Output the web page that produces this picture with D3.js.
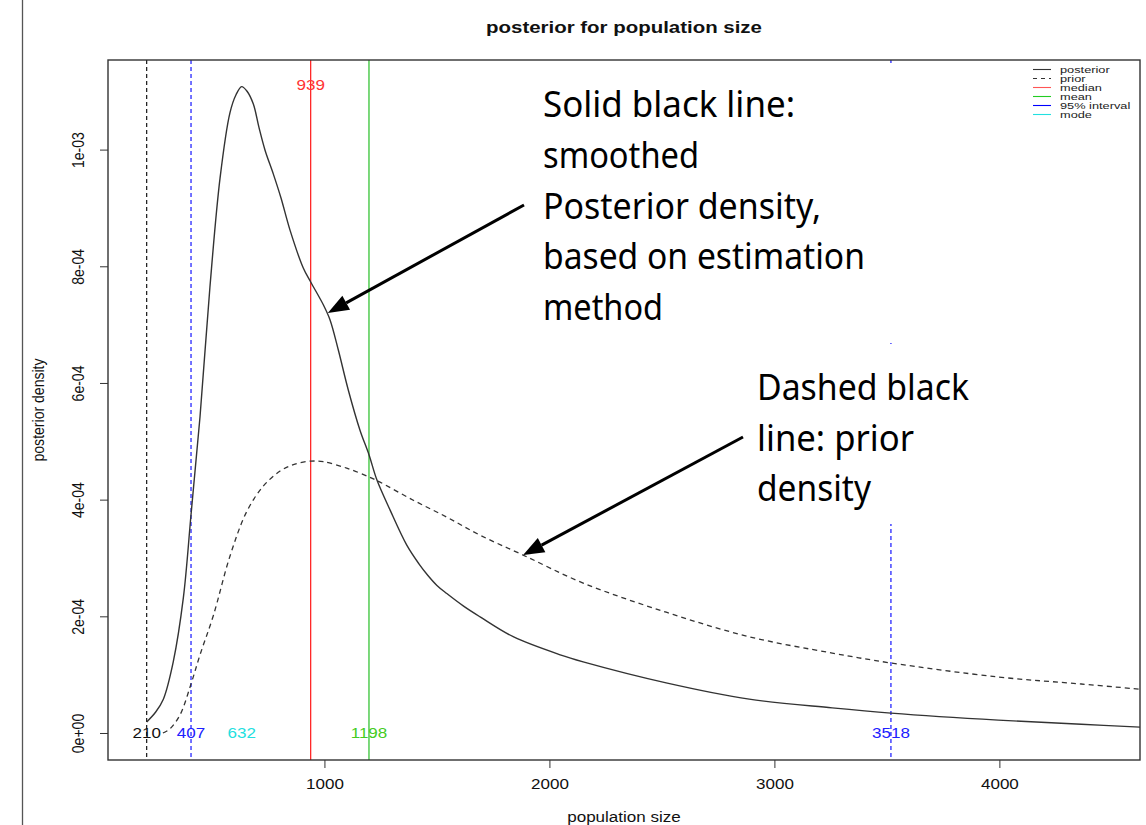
<!DOCTYPE html>
<html>
<head>
<meta charset="utf-8">
<script src="https://cdn.jsdelivr.net/npm/d3@7"></script>
<style>
  html, body { margin: 0; padding: 0; background: #fff; }
  svg { display: block; }
  .rt { font-family: "Liberation Sans", Arial, sans-serif; }
  .ann { font-family: "Noto Sans", "Open Sans", sans-serif; }
</style>
</head>
<body>
<svg id="chart" width="1146" height="825"></svg>
<script>
// ---------------- data ----------------
const posteriorN = [210, 250, 284, 328, 373, 407, 447, 491, 536, 580, 607, 632, 656, 684, 709, 736, 773, 807, 847, 906, 939, 995, 1025, 1062, 1106, 1158, 1198, 1233, 1292, 1366, 1420, 1460, 1500, 1544, 1620, 1692, 1839, 2048, 2150, 2519, 2888, 3257, 3518, 3995, 4364, 4627];
const posteriorD = [1.9e-5, 3.6e-5, 5.8e-5, 1.22e-4, 2.32e-4, 3.74e-4, 5.42e-4, 7.64e-4, 9.51e-4, 1.063e-3, 1.094e-3, 1.108e-3, 1.100e-3, 1.078e-3, 1.038e-3, 9.99e-4, 9.58e-4, 9.17e-4, 8.62e-4, 7.97e-4, 7.73e-4, 7.34e-4, 7.08e-4, 6.56e-4, 5.88e-4, 5.19e-4, 4.77e-4, 4.34e-4, 3.82e-4, 3.22e-4, 2.90e-4, 2.70e-4, 2.53e-4, 2.39e-4, 2.17e-4, 1.99e-4, 1.65e-4, 1.34e-4, 1.22e-4, 8.6e-5, 5.8e-5, 4.3e-5, 3.4e-5, 2.2e-5, 1.5e-5, 1.0e-5];

const priorN = [282, 313, 358, 407, 447, 506, 580, 654, 728, 803, 869, 939, 995, 1099, 1198, 1247, 1395, 1544, 1692, 1883, 2150, 2519, 2888, 3257, 3518, 3995, 4364, 4627];
const priorD = [0, 7e-6, 3.1e-5, 8.4e-5, 1.34e-4, 2.01e-4, 3.03e-4, 3.79e-4, 4.23e-4, 4.49e-4, 4.61e-4, 4.66e-4, 4.65e-4, 4.54e-4, 4.39e-4, 4.30e-4, 3.99e-4, 3.70e-4, 3.39e-4, 3.05e-4, 2.57e-4, 2.07e-4, 1.65e-4, 1.37e-4, 1.20e-4, 9.6e-5, 8.4e-5, 7.5e-5];

const xTicks = [1000, 2000, 3000, 4000];
const yTicks = [0, 2e-4, 4e-4, 6e-4, 8e-4, 1e-3];
const yTickLabels = ["0e+00", "2e-04", "4e-04", "6e-04", "8e-04", "1e-03"];

// reference lines: value, colour, dashed?, label position
const markerValues = [210, 407, 939, 1198, 3518];
const markerColors = ["#000000", "#0000ff", "#ff0000", "#11b811", "#0000ff"];
const markerDashed = [true, true, false, false, true];
const markerLabelColors = ["#111111", "#2020ff", "#ff3333", "#44cc22", "#2020ff"];
const markerLabelPos = ["bottom", "bottom", "top", "bottom", "bottom"];
const modeValue = 632;
const modeColor = "#22e0e0";

const legendLabels = ["posterior", "prior", "median", "mean", "95% interval", "mode"];
const legendColors = ["#333333", "#333333", "#ff5555", "#22cc22", "#0000ff", "#22e0e0"];
const legendDashed = [false, true, false, false, false, false];

const annot1Lines = ["Solid black line:", "smoothed", "Posterior density,", "based on estimation", "method"];
const annot1Widths = [252, 156, 278, 322, 120];
const annot2Lines = ["Dashed black", "line: prior", "density"];
const annot2Widths = [212, 157, 114];

// ---------------- layout ----------------
const svg = d3.select("#chart");
const L = 108, R = 1140, T = 60, B = 760;
const SX = 1.42, SY = 1.17; // horizontal / vertical stretch of the original R text

const x = d3.scaleLinear().domain([38, 4625]).range([L, R]);
const y = d3.scaleLinear().domain([-4.63e-5, 1.1536e-3]).range([B, T]);

svg.append("rect").attr("width", 1146).attr("height", 825).attr("fill", "#fff");

// page left rule
svg.append("line").attr("x1", 22.5).attr("x2", 22.5).attr("y1", 0).attr("y2", 825)
  .attr("stroke", "#555").attr("stroke-width", 1.3);

svg.append("clipPath").attr("id", "clip").append("rect")
  .attr("x", L).attr("y", T).attr("width", R - L).attr("height", B - T);

function rtext(parent, px, py, str, o = {}) {
  const sy = o.sy || SY;
  const g = parent.append("g")
    .attr("transform", `translate(${px},${py}) scale(${SX},${sy})` + (o.rotate ? " rotate(-90)" : ""));
  return g.append("text").attr("class", "rt")
    .attr("text-anchor", o.anchor || "middle")
    .attr("dominant-baseline", "central")
    .attr("font-size", o.size || 12)
    .attr("font-weight", o.weight || "normal")
    .attr("fill", o.fill || "#111")
    .text(str);
}

const plot = svg.append("g").attr("clip-path", "url(#clip)");

// reference vertical lines
markerValues.forEach((v, i) => {
  plot.append("line")
    .attr("x1", x(v)).attr("x2", x(v)).attr("y1", T).attr("y2", B)
    .attr("stroke", markerColors[i]).attr("stroke-width", 1.1)
    .attr("stroke-dasharray", markerDashed[i] ? "4,3" : null);
});

// curves
const line = d3.line().x(d => x(d[0])).y(d => y(d[1])).curve(d3.curveCatmullRom.alpha(0.5));
plot.append("path").datum(priorN.map((n, i) => [n, priorD[i]]))
  .attr("d", line).attr("fill", "none").attr("stroke", "#333")
  .attr("stroke-width", 1.3).attr("stroke-dasharray", "5,4");
plot.append("path").datum(posteriorN.map((n, i) => [n, posteriorD[i]]))
  .attr("d", line).attr("fill", "none").attr("stroke", "#333")
  .attr("stroke-width", 1.4);

// marker labels
markerValues.forEach((v, i) => {
  const py = markerLabelPos[i] === "top" ? 85 : y(0);
  rtext(svg, x(v), py, String(v), { fill: markerLabelColors[i] });
});
rtext(svg, x(modeValue), y(0), String(modeValue), { fill: modeColor });

// plot box
svg.append("rect").attr("x", L).attr("y", T).attr("width", R - L).attr("height", B - T)
  .attr("fill", "none").attr("stroke", "#333").attr("stroke-width", 1.4);

// legend
legendLabels.forEach((lab, i) => {
  const ly = 69.5 + i * 9;
  svg.append("line").attr("x1", 1033).attr("x2", 1051).attr("y1", ly).attr("y2", ly)
    .attr("stroke", legendColors[i]).attr("stroke-width", 1.1)
    .attr("stroke-dasharray", legendDashed[i] ? "4,4" : null);
  rtext(svg, 1060, ly, lab, { anchor: "start", size: 9, sy: 0.95, fill: "#222" });
});

// axes
const xAxis = svg.append("g").attr("transform", `translate(0,${B})`)
  .call(d3.axisBottom(x).tickValues(xTicks).tickSize(8).tickFormat(d3.format("d")));
xAxis.select(".domain").remove();
xAxis.selectAll(".tick line").attr("stroke", "#333");
xAxis.selectAll("text").attr("y", null).attr("dy", null)
  .attr("class", "rt").attr("font-size", 12).attr("fill", "#111")
  .attr("dominant-baseline", "central")
  .attr("transform", `translate(0,24) scale(${SX},${SY})`);

const yAxis = svg.append("g").attr("transform", `translate(${L},0)`)
  .call(d3.axisLeft(y).tickValues(yTicks).tickSize(8).tickFormat((d, i) => yTickLabels[i]));
yAxis.select(".domain").remove();
yAxis.selectAll(".tick line").attr("stroke", "#333");
yAxis.selectAll("text").attr("x", null).attr("dy", null)
  .attr("class", "rt").attr("font-size", 12).attr("fill", "#111")
  .attr("text-anchor", "middle").attr("dominant-baseline", "central")
  .attr("transform", `translate(-30,0) scale(${SX},${SY}) rotate(-90)`);

// titles
rtext(svg, (L + R) / 2, 27, "posterior for population size", { size: 14.4, weight: "bold" });
rtext(svg, (L + R) / 2, 817, "population size", { size: 12 });
rtext(svg, 38, (T + B) / 2, "posterior density", { size: 12, rotate: true });

// annotation backgrounds (hide the reference line behind the text)
svg.append("rect").attr("x", 535).attr("y", 63).attr("width", 470).attr("height", 280).attr("fill", "#fff");
svg.append("rect").attr("x", 748).attr("y", 347).attr("width", 257).attr("height", 177).attr("fill", "#fff");

annot1Lines.forEach((t, i) => {
  svg.append("text").attr("class", "ann").attr("x", 543).attr("y", 117 + i * 50.8)
    .attr("font-size", 37).attr("fill", "#000")
    .attr("textLength", annot1Widths[i]).attr("lengthAdjust", "spacingAndGlyphs").text(t);
});
annot2Lines.forEach((t, i) => {
  svg.append("text").attr("class", "ann").attr("x", 757).attr("y", 400 + i * 50.7)
    .attr("font-size", 37).attr("fill", "#000")
    .attr("textLength", annot2Widths[i]).attr("lengthAdjust", "spacingAndGlyphs").text(t);
});

// arrows pointing at the curves
function arrow(x0, y0, x1, y1) {
  const ang = Math.atan2(y1 - y0, x1 - x0);
  const len = 21, hw = 8;
  const bx = x1 - len * Math.cos(ang), by = y1 - len * Math.sin(ang);
  svg.append("line").attr("x1", x0).attr("y1", y0).attr("x2", bx).attr("y2", by)
    .attr("stroke", "#000").attr("stroke-width", 3);
  const p1 = [bx + hw * Math.sin(ang), by - hw * Math.cos(ang)];
  const p2 = [bx - hw * Math.sin(ang), by + hw * Math.cos(ang)];
  svg.append("path").attr("d", `M${x1},${y1}L${p1[0]},${p1[1]}L${p2[0]},${p2[1]}Z`).attr("fill", "#000");
}
arrow(524, 205, x(1015), y(7.2e-4));
arrow(743, 437, x(1883), y(3.05e-4));
</script>
</body>
</html>
